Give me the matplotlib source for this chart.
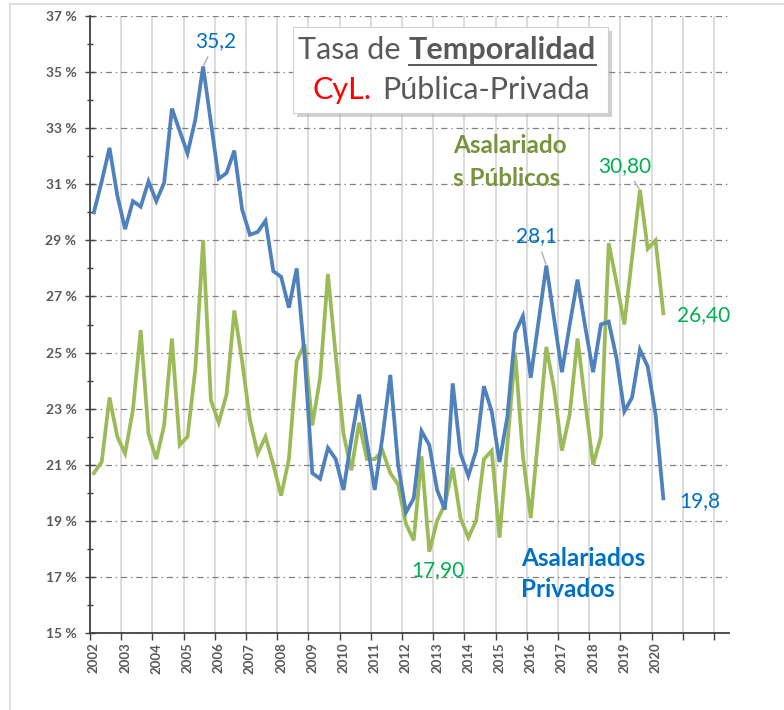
import numpy as np
import matplotlib
matplotlib.use("Agg")
import matplotlib.pyplot as plt
from matplotlib.lines import Line2D
from matplotlib.patches import Rectangle
from matplotlib.ticker import FixedLocator, NullFormatter

plt.rcParams['font.family'] = ['Lato', 'DejaVu Sans']

# quarterly series, 2002T1 .. 2020T2 (74 quarters)
privados = [30.0, 31.1, 32.3, 30.6, 29.4, 30.4, 30.2, 31.1,
            30.4, 31.05, 33.7, 32.9, 32.1, 33.3, 35.2, 33.2,
            31.2, 31.4, 32.2, 30.1, 29.2, 29.3, 29.7, 27.9,
            27.7, 26.6, 28.0, 24.9, 20.7, 20.5, 21.6, 21.2,
            20.1, 21.9, 23.5, 21.8, 20.1, 22.0, 24.2, 21.0,
            19.3, 19.8, 22.2, 21.7, 20.1, 19.4, 23.9, 21.4,
            20.6, 21.5, 23.8, 22.9, 21.1, 22.7, 25.7, 26.3,
            24.1, 26.1, 28.1, 26.2, 24.3, 26.0, 27.6, 25.9,
            24.3, 26.0, 26.1, 24.8, 22.9, 23.4, 25.1, 24.5,
            22.8, 19.8]
publicos = [20.7, 21.1, 23.4, 22.0, 21.4, 22.95, 25.8, 22.1,
            21.2, 22.4, 25.5, 21.7, 22.0, 24.4, 29.0, 23.3,
            22.5, 23.5, 26.5, 24.7, 22.6, 21.4, 22.0, 21.0,
            19.9, 21.2, 24.7, 25.3, 22.4, 24.1, 27.8, 24.9,
            22.1, 20.8, 22.5, 21.2, 21.2, 21.5, 20.7, 20.3,
            18.9, 18.3, 21.3, 17.9, 19.0, 19.6, 20.9, 19.1,
            18.4, 19.0, 21.2, 21.5, 18.4, 21.7, 25.0, 21.3,
            19.1, 22.1, 25.2, 23.7, 21.5, 22.8, 25.5, 23.2,
            21.0, 22.0, 28.9, 27.5, 26.0, 28.4, 30.8, 28.7,
            29.0, 26.4]
first_year = 2002
label_years = list(range(2002, 2021))
grid_years = list(range(2002, 2023))

BLUE = '#4F81BD'
GREEN = '#9BBB59'
BLUE_TXT = '#0070C0'
GREEN_TXT = '#00B050'
OLIVE_TXT = '#77933C'
GRAY_TXT = '#595959'

W, H = 784, 710
fig = plt.figure(figsize=(W / 100, H / 100), dpi=100)


def fx(px):
    return px / W


def fy(py):
    return 1 - py / H


ax = fig.add_axes([fx(90), fy(633), fx(729) - fx(90), fy(16) - fy(633)])

x = first_year + (np.arange(len(privados)) + 0.5) / 4
ax.plot(x, privados, color=BLUE, lw=2.7, solid_joinstyle='miter', zorder=4)
ax.plot(x, publicos, color=GREEN, lw=2.7, solid_joinstyle='miter', zorder=3)

ax.set_xlim(2002, 2022.48)
ax.set_ylim(15, 37)

# y axis
ax.set_yticks(np.arange(15, 38, 2))
ax.set_yticklabels([f"{v} %" for v in range(15, 38, 2)])
ax.yaxis.set_minor_locator(FixedLocator(np.arange(16, 37, 2)))
ax.tick_params(axis='y', which='major', direction='inout', length=7.5, width=1.0,
               color='#404040', labelsize=10, labelcolor=GRAY_TXT, pad=6)
ax.tick_params(axis='y', which='minor', direction='inout', length=4.5, width=1.0,
               color='#404040')
for lab in ax.get_yticklabels():
    lab.set_fontweight('bold')

# x axis: ticks at year boundaries, labels at first quarter of each year
ax.set_xticks(grid_years)
ax.xaxis.set_major_formatter(NullFormatter())
ax.xaxis.set_minor_locator(FixedLocator([y + 0.125 for y in label_years]))
ax.set_xticklabels([str(y) for y in label_years], minor=True, rotation=90,
                   fontsize=9.5, fontweight='bold', color=GRAY_TXT)
ax.tick_params(axis='x', which='major', direction='out', length=5, width=1.0,
               color='#404040')
ax.tick_params(axis='x', which='minor', length=0, pad=7)

ax.grid(axis='y', which='major', color='#808080', lw=0.9,
        linestyle=(0, (5, 3, 1.2, 3)))
ax.grid(axis='x', which='major', color='#D9D9D9', lw=1.3)
ax.set_axisbelow(True)

for s in ['top', 'right']:
    ax.spines[s].set_visible(False)
for s in ['left', 'bottom']:
    ax.spines[s].set_color('#404040')
    ax.spines[s].set_linewidth(1.3)

# value annotations
lead = dict(arrowstyle='-', color='#A6A6A6', lw=0.9, shrinkA=2, shrinkB=1)
ax.annotate('35,2', (x[14], privados[14]), xytext=(9, 18), textcoords='offset points',
            ha='center', va='center', fontsize=15, color=BLUE_TXT, arrowprops=lead)
ax.annotate('28,1', (x[58], privados[58]), xytext=(-7, 21), textcoords='offset points',
            ha='center', va='center', fontsize=15, color=BLUE_TXT, arrowprops=lead)
ax.annotate('30,80', (x[70], publicos[70]), xytext=(-11, 17), textcoords='offset points',
            ha='center', va='center', fontsize=15, color=GREEN_TXT, arrowprops=lead)
ax.annotate('26,40', (x[73], publicos[73]), xytext=(29, -1), textcoords='offset points',
            ha='center', va='center', fontsize=15, color=GREEN_TXT)
ax.annotate('19,8', (x[73], privados[73]), xytext=(26, -2), textcoords='offset points',
            ha='center', va='center', fontsize=15, color=BLUE_TXT)
ax.annotate('17,90', (x[43], publicos[43]), xytext=(6, -13), textcoords='offset points',
            ha='center', va='center', fontsize=15, color=GREEN_TXT)

# series names
ax.text(2013.63, 32.40, 'Asalariado', fontsize=17.5, fontweight='bold',
        color=OLIVE_TXT, ha='left', va='center')
ax.text(2013.63, 31.21, 's Públicos', fontsize=17.5, fontweight='bold',
        color=OLIVE_TXT, ha='left', va='center')
ax.text(2015.81, 17.64, 'Asalariados', fontsize=17.5, fontweight='bold',
        color=BLUE_TXT, ha='left', va='center')
ax.text(2015.81, 16.56, 'Privados', fontsize=17.5, fontweight='bold',
        color=BLUE_TXT, ha='left', va='center')

# title box with shadow
bx0, by0, bx1, by1 = 293, 27, 608, 113
fig.add_artist(Rectangle((fx(bx0 + 4), fy(by1 + 4)), fx(bx1) - fx(bx0),
                         fy(by0) - fy(by1), transform=fig.transFigure,
                         facecolor='#9a9a9a', edgecolor='none', alpha=0.45, zorder=5))
fig.add_artist(Rectangle((fx(bx0), fy(by1)), fx(bx1) - fx(bx0), fy(by0) - fy(by1),
                         transform=fig.transFigure, facecolor='white',
                         edgecolor='#D0D0D0', lw=0.8, zorder=6))

renderer = fig.canvas.get_renderer()
t_reg = fig.text(fx(298), fy(50), 'Tasa de', fontsize=22, color=GRAY_TXT,
                 ha='left', va='center', zorder=7)
bb0 = t_reg.get_window_extent(renderer)
t_bold = fig.text((bb0.x1 + 8) / W, fy(50), 'Temporalidad', fontsize=22,
                  fontweight='bold', color=GRAY_TXT, ha='left', va='center', zorder=7)
t_cyl = fig.text(fx(313), fy(90), 'CyL.', fontsize=22, color='#FF0000',
                 ha='left', va='center', zorder=7)
bb1 = t_cyl.get_window_extent(renderer)
fig.text((bb1.x1 + 10) / W, fy(90), 'Pública-Privada', fontsize=22, color=GRAY_TXT,
         ha='left', va='center', zorder=7)

bb = t_bold.get_window_extent(renderer)
fig.add_artist(Line2D([bb.x0 / W, bb.x1 / W], [fy(65), fy(65)],
                      transform=fig.transFigure, color=GRAY_TXT, lw=1.4, zorder=7))

# outer frame (top and left edges visible)
fig.add_artist(Line2D([fx(10), 1], [fy(4), fy(4)], transform=fig.transFigure,
                      color='#D9D9D9', lw=1.2))
fig.add_artist(Line2D([fx(10), fx(10)], [fy(4), 0], transform=fig.transFigure,
                      color='#D9D9D9', lw=1.2))

fig.savefig('out.png', dpi=100)
